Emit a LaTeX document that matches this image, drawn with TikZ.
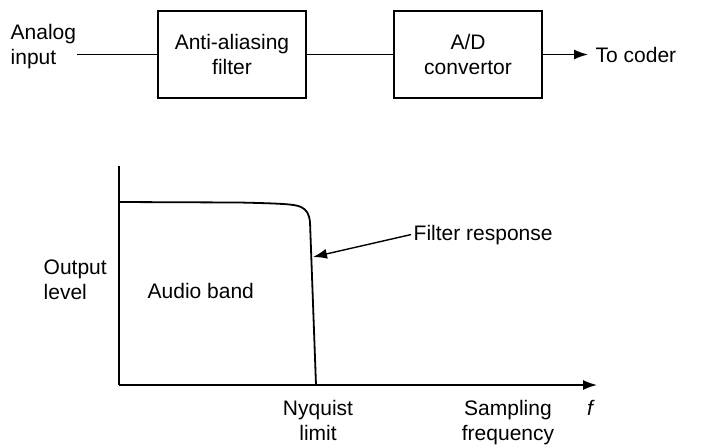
\documentclass[tikz,border=0pt]{standalone}
\usepackage{fontspec}
\setmainfont{Liberation Sans}
\usetikzlibrary{arrows.meta}

\begin{document}
\begin{tikzpicture}[x=0.5pt, y=-0.5pt, line width=0.7pt,
        every node/.style={font=\fontsize{10.5}{12.5}\selectfont},
        blk/.style={draw, minimum width=74pt, minimum height=43.5pt, align=center, inner sep=0pt},
        lbl/.style={inner sep=0pt, align=left},
        arr/.style={-{Latex[length=7pt, width=5pt]}}]
            \useasboundingbox (0,0) rectangle (712,447);

            \node[lbl, anchor=west] (in) at (10,47) {Analog\\input};
            \node[blk] (filt) at (232,54.5) {Anti-aliasing\\filter};
            \node[blk] (ad) at (468,54.5) {A/D\\convertor};
            \node[anchor=west, inner sep=3.5pt] (coder) at (588,54.5) {To coder};

            \draw (in.east |- filt.west) -- (filt.west);
            \draw (filt) -- (ad);
            \draw[arr] (ad.east) -- (ad.east -| coder.west);

            \coordinate (o) at (119,385);
            \coordinate (ytop) at (119,166);
            \coordinate (xend) at (597,385);
            \coordinate (knee) at (313,257);

            \draw (ytop) -- (o);
            \draw[arr] (o) -- (xend);
            \draw[line width=0.9pt] (119,202) -- (240,202.5) .. controls (280,203.5) and (295,204) .. (301,207)
                .. controls (307,210) and (309,214) .. (310,222) -- (316,385);

            \node[lbl, anchor=west] (lvl) at (43,280) {Output\\level};
            \node[lbl, anchor=base west] (band) at (147,298) {Audio band};
            \node[inner sep=1pt, anchor=base west] (resp) at (411,240) {Filter response};
            \draw[arr] (resp.west) -- (knee);
            \node[lbl, align=center, anchor=north] (nyq) at (318,400) {Nyquist\\limit};
            \node[lbl, align=center, anchor=north] (samp) at (508,400) {Sampling\\frequency};
            \node[lbl, anchor=base] (f) at (590,415) {\itshape f};
        \end{tikzpicture}
\end{document}
